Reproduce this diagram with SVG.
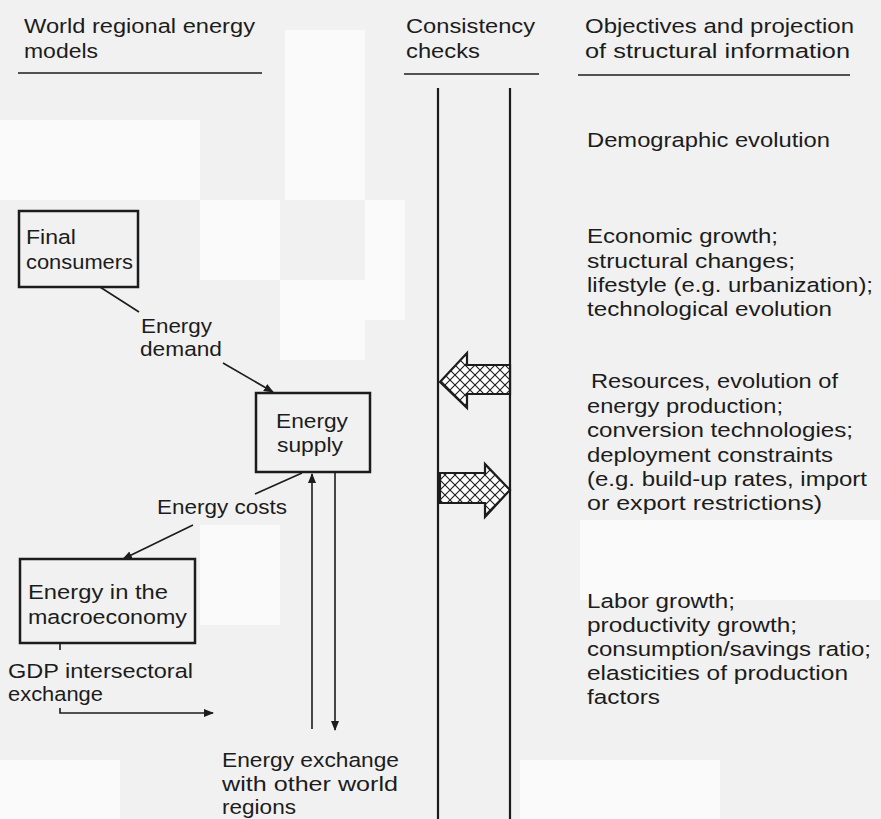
<svg xmlns="http://www.w3.org/2000/svg" width="881" height="819" viewBox="0 0 881 819">
<style>
text{font-family:"Liberation Sans",Arial,sans-serif;font-size:20.5px;fill:#1c1c1c}
.box{fill:none;stroke:#1c1c1c;stroke-width:2.5}
.ln{fill:none;stroke:#1c1c1c;stroke-width:1.6}
.rule{fill:none;stroke:#1c1c1c;stroke-width:1.5}
.hatch{fill:url(#xh);stroke:#1c1c1c;stroke-width:2.2;stroke-linejoin:miter}
</style>
<defs>
<marker id="ah" viewBox="0 0 10 10" refX="9" refY="5" markerWidth="10" markerHeight="10" markerUnits="userSpaceOnUse" orient="auto">
<path d="M0,1 L10,5 L0,9 Z" fill="#1c1c1c"/>
</marker>
<pattern id="xh" patternUnits="userSpaceOnUse" width="10" height="10">
<rect width="10" height="10" fill="#fff"/>
<path d="M0,0 L10,10 M10,0 L0,10" stroke="#1c1c1c" stroke-width="1.1"/>
</pattern>
</defs>
<rect width="881" height="819" fill="#f1f1f1"/>
<g fill="#fafafa">
<rect x="285" y="30" width="80" height="170"/>
<rect x="200" y="200" width="80" height="80"/>
<rect x="280" y="280" width="85" height="80"/>
<rect x="365" y="200" width="40" height="120"/>
<rect x="200" y="525" width="80" height="100"/>
<rect x="580" y="520" width="300" height="80"/>
<rect x="0" y="120" width="200" height="80"/>
<rect x="520" y="760" width="200" height="59"/>
<rect x="0" y="760" width="120" height="59"/>
</g>

<g id="headers">
<text x="24" y="33" textLength="231" lengthAdjust="spacingAndGlyphs">World regional energy</text>
<text x="24" y="58" textLength="74" lengthAdjust="spacingAndGlyphs">models</text>
<line class="rule" x1="18" y1="73" x2="262" y2="73"/>
<text x="406" y="33" textLength="129" lengthAdjust="spacingAndGlyphs">Consistency</text>
<text x="406" y="58" textLength="74" lengthAdjust="spacingAndGlyphs">checks</text>
<line class="rule" x1="404" y1="74" x2="539" y2="74"/>
<text x="585" y="33" textLength="269" lengthAdjust="spacingAndGlyphs">Objectives and projection</text>
<text x="585" y="58" textLength="265" lengthAdjust="spacingAndGlyphs">of structural information</text>
<line class="rule" x1="578" y1="75" x2="850" y2="75"/>
</g>

<g id="consistency-lines">
<line x1="438" y1="88" x2="438" y2="819" stroke="#1c1c1c" stroke-width="2.2"/>
<line x1="510" y1="88" x2="510" y2="819" stroke="#1c1c1c" stroke-width="2.2"/>
</g>

<g id="demographic">
<text x="587" y="147" textLength="243" lengthAdjust="spacingAndGlyphs">Demographic evolution</text>
</g>
<g id="economic">
<text x="587" y="243" textLength="191" lengthAdjust="spacingAndGlyphs">Economic growth;</text>
<text x="587" y="268" textLength="208" lengthAdjust="spacingAndGlyphs">structural changes;</text>
<text x="587" y="292" textLength="286" lengthAdjust="spacingAndGlyphs">lifestyle (e.g. urbanization);</text>
<text x="587" y="316" textLength="245" lengthAdjust="spacingAndGlyphs">technological evolution</text>
</g>
<g id="resources">
<text x="591" y="388" textLength="247" lengthAdjust="spacingAndGlyphs">Resources, evolution of</text>
<text x="587" y="413" textLength="196" lengthAdjust="spacingAndGlyphs">energy production;</text>
<text x="587" y="437" textLength="266" lengthAdjust="spacingAndGlyphs">conversion technologies;</text>
<text x="587" y="462" textLength="246" lengthAdjust="spacingAndGlyphs">deployment constraints</text>
<text x="587" y="486" textLength="280" lengthAdjust="spacingAndGlyphs">(e.g. build-up rates, import</text>
<text x="587" y="510" textLength="235" lengthAdjust="spacingAndGlyphs">or export restrictions)</text>
</g>
<g id="labor">
<text x="587" y="608" textLength="148" lengthAdjust="spacingAndGlyphs">Labor growth;</text>
<text x="587" y="632" textLength="210" lengthAdjust="spacingAndGlyphs">productivity growth;</text>
<text x="587" y="656" textLength="284" lengthAdjust="spacingAndGlyphs">consumption/savings ratio;</text>
<text x="587" y="680" textLength="261" lengthAdjust="spacingAndGlyphs">elasticities of production</text>
<text x="587" y="704" textLength="73" lengthAdjust="spacingAndGlyphs">factors</text>
</g>

<g id="final-consumers">
<rect class="box" x="19" y="211" width="119" height="76" fill="#f1f1f1"/>
<text x="26" y="244" textLength="50" lengthAdjust="spacingAndGlyphs">Final</text>
<text x="26" y="269" textLength="107" lengthAdjust="spacingAndGlyphs">consumers</text>
</g>
<g id="energy-supply">
<rect class="box" x="256" y="393" width="114" height="79" fill="#f1f1f1"/>
<text x="276" y="428" textLength="72" lengthAdjust="spacingAndGlyphs">Energy</text>
<text x="277" y="452" textLength="66" lengthAdjust="spacingAndGlyphs">supply</text>
</g>
<g id="energy-macro">
<rect class="box" x="20" y="559" width="175" height="84" fill="#f1f1f1"/>
<text x="28" y="599" textLength="140" lengthAdjust="spacingAndGlyphs">Energy in the</text>
<text x="28" y="624" textLength="159" lengthAdjust="spacingAndGlyphs">macroeconomy</text>
</g>
<g id="labels">
<text x="141" y="333" textLength="71" lengthAdjust="spacingAndGlyphs">Energy</text>
<text x="140" y="356" textLength="82" lengthAdjust="spacingAndGlyphs">demand</text>
<text x="157" y="514" textLength="130" lengthAdjust="spacingAndGlyphs">Energy costs</text>
<text x="8" y="678" textLength="185" lengthAdjust="spacingAndGlyphs">GDP intersectoral</text>
<text x="8" y="701" textLength="95" lengthAdjust="spacingAndGlyphs">exchange</text>
<text x="222" y="767" textLength="177" lengthAdjust="spacingAndGlyphs">Energy exchange</text>
<text x="222" y="791" textLength="176" lengthAdjust="spacingAndGlyphs">with other world</text>
<text x="222" y="814" textLength="74" lengthAdjust="spacingAndGlyphs">regions</text>
</g>

<g id="connectors">
<line class="ln" x1="100" y1="287" x2="139" y2="312"/>
<line class="ln" x1="223" y1="363" x2="273" y2="392" marker-end="url(#ah)"/>
<line class="ln" x1="302" y1="473" x2="255" y2="494"/>
<line class="ln" x1="193" y1="525" x2="123" y2="559" marker-end="url(#ah)"/>
<line class="ln" x1="60" y1="643" x2="60" y2="650"/>
<polyline class="ln" points="60,708 60,713 213,713" marker-end="url(#ah)"/>
<line class="ln" x1="312" y1="729" x2="312" y2="474" marker-end="url(#ah)"/>
<line class="ln" x1="335" y1="472" x2="335" y2="730" marker-end="url(#ah)"/>
<polygon class="hatch" points="440,382 467,353 467,365 510,365 510,394 467,394 467,408"/>
<polygon class="hatch" points="440,473 485,473 485,464 510,490 485,517 485,503 440,503"/>
</g>
</svg>
